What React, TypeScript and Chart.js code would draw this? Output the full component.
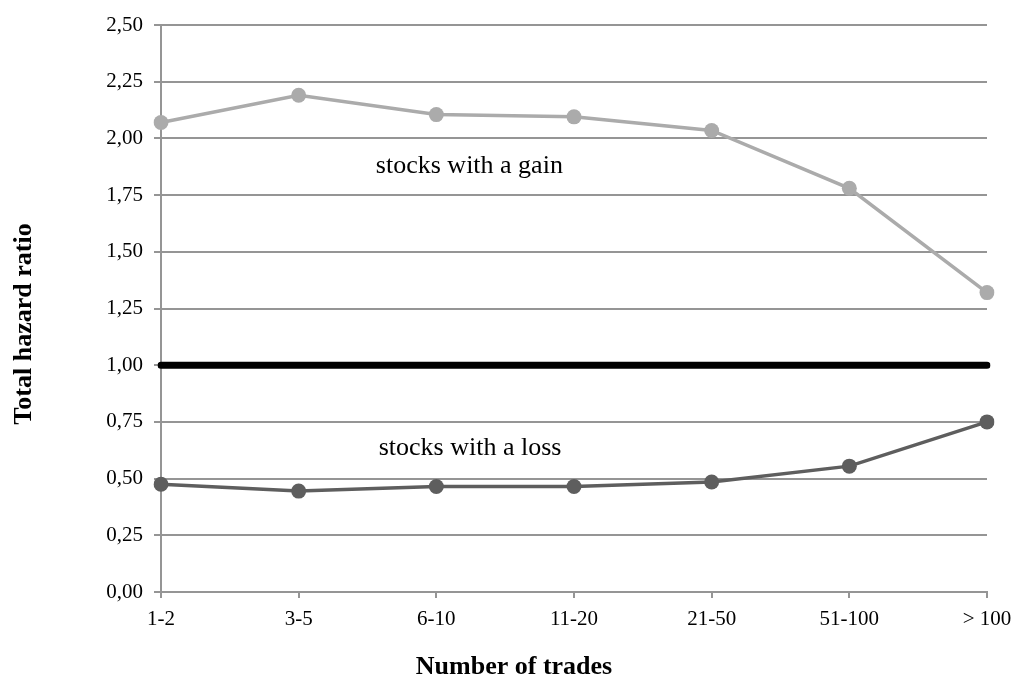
import React, { useEffect, useRef } from "react";
import { Chart, registerables } from "chart.js";

Chart.register(...registerables);

const categories = ["1-2", "3-5", "6-10", "11-20", "21-50", "51-100", "> 100"];
const gainValues = [2.07, 2.19, 2.105, 2.095, 2.035, 1.78, 1.32];
const lossValues = [0.475, 0.445, 0.465, 0.465, 0.485, 0.555, 0.75];
const referenceValues = [1, 1, 1, 1, 1, 1, 1];
const yTicks = [0, 0.25, 0.5, 0.75, 1, 1.25, 1.5, 1.75, 2, 2.25, 2.5];
const seriesLabels = [
  { text: "stocks with a gain", x: 2.24, y: 1.878 },
  { text: "stocks with a loss", x: 2.245, y: 0.635 },
];
const xTitle = "Number of trades";
const yTitle = "Total hazard ratio";

const FONT = "'Liberation Serif', 'Times New Roman', serif";

const textPlugin = {
  id: "textOverlay",
  afterDraw(chart: any) {
    const { ctx, scales } = chart;
    ctx.save();
    ctx.fillStyle = "#000";
    ctx.textAlign = "center";
    ctx.textBaseline = "middle";
    ctx.font = `26px ${FONT}`;
    seriesLabels.forEach((l) => {
      ctx.fillText(l.text, scales.x.getPixelForValue(l.x), scales.y.getPixelForValue(l.y));
    });
    ctx.font = `bold 26px ${FONT}`;
    ctx.fillText(xTitle, 514, 667);
    ctx.translate(24, 324);
    ctx.rotate(-Math.PI / 2);
    ctx.fillText(yTitle, 0, 0);
    ctx.restore();
  },
};

export default function App() {
  const ref = useRef<HTMLCanvasElement>(null);
  useEffect(() => {
    const chart = new Chart(ref.current as HTMLCanvasElement, {
      type: "line",
      data: {
        labels: categories,
        datasets: [
          {
            data: referenceValues,
            borderColor: "#000",
            borderWidth: 7,
            pointRadius: 0,
            borderCapStyle: "round",
            order: 3,
          },
          {
            data: gainValues,
            borderColor: "#ababab",
            backgroundColor: "#ababab",
            borderWidth: 3.5,
            pointRadius: 7.5,
            pointBorderWidth: 0,
            order: 1,
          },
          {
            data: lossValues,
            borderColor: "#5e5e5e",
            backgroundColor: "#5e5e5e",
            borderWidth: 3.5,
            pointRadius: 7.5,
            pointBorderWidth: 0,
            order: 2,
          },
        ],
      },
      options: {
        animation: false,
        responsive: true,
        maintainAspectRatio: false,
        layout: { padding: { left: 0, right: 29, top: 25, bottom: 0 } },
        plugins: { legend: { display: false }, tooltip: { enabled: false } },
        scales: {
          x: {
            offset: false,
            grid: { display: true, drawOnChartArea: false, drawTicks: true, tickLength: 6, color: "#959595", lineWidth: 2 },
            border: { color: "#959595", width: 2 },
            ticks: { color: "#000", font: { family: FONT, size: 21 }, padding: 9, maxRotation: 0, autoSkip: false },
            afterFit(scale: any) {
              scale.height = 87;
              scale.paddingLeft = 0;
              scale.paddingRight = 0;
            },
          },
          y: {
            min: 0,
            max: 2.5,
            afterBuildTicks(scale: any) {
              scale.ticks = yTicks.map((v) => ({ value: v }));
            },
            grid: { color: "#959595", lineWidth: 2, tickLength: 7 },
            border: { color: "#959595", width: 2 },
            ticks: {
              color: "#000",
              font: { family: FONT, size: 21 },
              padding: 11,
              callback: (v: any) => Number(v).toFixed(2).replace(".", ","),
            },
            afterFit(scale: any) {
              scale.width = 161;
              scale.paddingTop = 0;
              scale.paddingBottom = 0;
            },
          },
        },
      },
      plugins: [textPlugin],
    } as any);
    return () => chart.destroy();
  }, []);
  return (
    <div style={{ position: "absolute", left: 0, top: 0, width: 1016, height: 679, background: "#fff" }}>
      <canvas ref={ref} />
    </div>
  );
}
